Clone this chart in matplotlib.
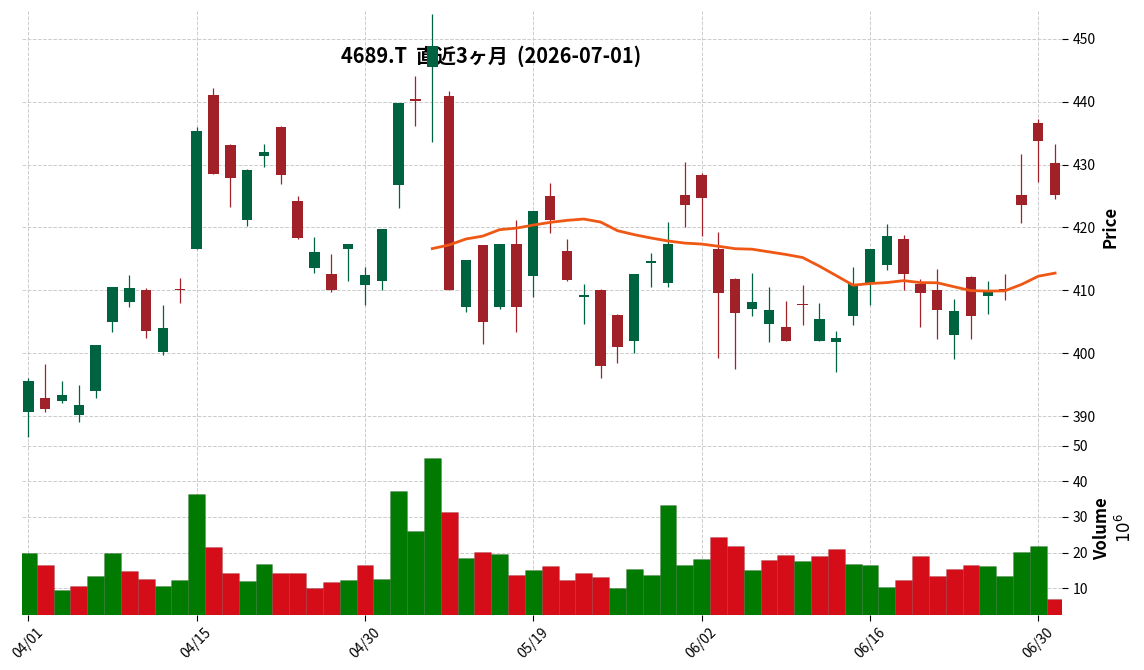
import numpy as np
import pandas as pd
import matplotlib
matplotlib.use("Agg")
import matplotlib.pyplot as plt

plt.rcParams['font.family'] = ['Noto Sans CJK JP', 'DejaVu Sans']

# --- data ---
title = "4689.T  直近3ヶ月  (2026-07-01)"

# Tokyo trading days, Apr 1 - Jul 1 2026
holidays = ['2026-04-29', '2026-05-04', '2026-05-05', '2026-05-06']
dates = pd.bdate_range('2026-04-01', '2026-07-01')
dates = dates[~dates.isin(pd.to_datetime(holidays))]

opens = [390.7, 392.9, 392.45, 390.1, 394.0, 405.0, 408.2, 410.0, 400.2, 410.0,
         416.6, 441.1, 433.1, 421.1, 431.4, 436.0, 424.2, 413.6, 412.6, 416.5,
         410.9, 411.4, 426.8, 440.1, 445.5, 440.9, 407.4, 417.2, 407.4, 417.4,
         412.2, 425.0, 416.3, 409.0, 410.05, 406.1, 402.0, 414.4, 411.1, 425.2,
         428.3, 416.6, 411.8, 407.1, 404.7, 404.2, 407.8, 402.0, 401.7, 405.9,
         411.2, 414.1, 418.2, 410.95, 410.0, 402.9, 412.1, 409.1, 410.0, 425.2,
         436.6, 430.25]
highs = [396.0, 398.2, 395.5, 394.9, 401.3, 410.6, 412.5, 410.3, 407.6, 411.9,
         435.9, 442.1, 433.3, 429.3, 433.2, 436.1, 425.0, 418.4, 415.7, 417.4,
         413.7, 419.8, 439.8, 444.1, 453.9, 441.7, 414.8, 417.2, 417.4, 421.1,
         422.6, 427.0, 418.1, 411.0, 410.25, 406.3, 412.6, 416.0, 420.8, 430.4,
         428.7, 419.2, 411.9, 412.7, 410.6, 408.25, 410.8, 408.0, 403.5, 413.7,
         416.6, 420.5, 418.75, 411.75, 413.4, 408.6, 412.3, 411.4, 412.6, 431.7,
         437.3, 433.2]
lows = [386.6, 390.6, 392.0, 389.0, 392.8, 403.3, 407.3, 402.4, 399.7, 407.9,
        416.6, 428.5, 423.2, 420.2, 429.6, 426.9, 418.2, 412.7, 409.8, 411.5,
        407.6, 410.0, 423.1, 436.1, 433.6, 410.0, 406.6, 401.4, 407.0, 403.3,
        409.0, 419.1, 411.4, 404.6, 396.0, 398.5, 400.1, 410.6, 410.6, 420.1,
        418.7, 399.3, 397.5, 405.9, 401.7, 402.0, 404.4, 402.0, 397.0, 404.4,
        407.6, 413.3, 410.0, 404.1, 402.2, 399.0, 402.2, 406.3, 408.4, 420.7,
        427.3, 424.5]
closes = [395.6, 391.1, 393.4, 391.8, 401.3, 410.5, 410.4, 403.6, 404.0, 410.0,
          435.3, 428.5, 427.9, 429.1, 432.0, 428.4, 418.3, 416.1, 410.05, 417.4,
          412.4, 419.8, 439.8, 440.1, 448.9, 410.05, 414.8, 404.9, 417.4, 407.4,
          422.6, 421.2, 411.6, 409.3, 398.0, 401.0, 412.6, 414.6, 417.4, 423.5,
          424.6, 409.5, 406.4, 408.1, 406.9, 402.0, 407.6, 405.4, 402.4, 411.0,
          416.6, 418.6, 412.65, 409.5, 406.8, 406.7, 405.9, 409.8, 410.0, 423.5,
          433.8, 425.1]
# volume in millions of shares
volumes = [19.8, 16.4, 9.5, 10.7, 13.5, 19.8, 14.9, 12.7, 10.7, 12.4,
           36.5, 21.5, 14.4, 12.1, 16.9, 14.4, 14.4, 10.1, 11.8, 12.4,
           16.4, 12.7, 37.4, 26.0, 46.5, 31.4, 18.6, 20.3, 19.5, 13.8,
           15.2, 16.1, 12.4, 14.4, 13.2, 10.1, 15.5, 13.8, 33.4, 16.6,
           18.1, 24.3, 21.8, 15.2, 17.8, 19.2, 17.5, 18.9, 20.9, 16.9,
           16.4, 10.4, 12.4, 18.9, 13.5, 15.5, 16.4, 16.1, 13.5, 20.1,
           21.8, 7.0]
mav_window = 25

up_color, down_color = '#006340', '#a02128'
vup_color, vdown_color = '#007a00', '#d50d18'
ma_color = '#ef5714'
grid_color = '#cccccc'

o = np.array(opens)
h = np.array(highs)
l = np.array(lows)
c = np.array(closes)
v = np.array(volumes)
x = np.arange(len(c))

fig = plt.figure(figsize=(11.44, 6.70), dpi=100)
left, width = 22 / 1144, 1040 / 1144
ax = fig.add_axes([left, 0.3403, width, 0.6433])
axv = fig.add_axes([left, 0.0821, width, 0.2582], sharex=ax)

# candles
ccol = [up_color if c[i] > o[i] else down_color for i in range(len(c))]
ax.vlines(x, l, h, colors=ccol, linewidth=0.9, zorder=2)
body = np.maximum(np.abs(c - o), 0.25)
ax.bar(x, body, bottom=np.minimum(o, c), width=0.62, color=ccol,
       linewidth=0, zorder=3)

# moving average
ma = pd.Series(c).rolling(mav_window).mean()
ax.plot(x, ma, color=ma_color, linewidth=2.0, zorder=4)

# volume, coloured by close vs previous close
vcol = [vup_color] + [vup_color if c[i] > c[i - 1] else vdown_color
                      for i in range(1, len(c))]
axv.bar(x, v, width=1.0, color=vcol, edgecolor='#00000022', linewidth=0.6,
        zorder=3)

ax.set_xlim(-0.374, 61.41)
ax.set_ylim(385.87, 454.42)
axv.set_ylim(2.5, 51.0)

ax.set_yticks(np.arange(390, 451, 10))
axv.set_yticks(np.arange(10, 51, 10))
ticks = list(range(0, len(c), 10))
axv.set_xticks(ticks)
axv.set_xticklabels([dates[i].strftime('%m/%d') for i in ticks],
                    rotation=45, ha='center')

for a in (ax, axv):
    for s in a.spines.values():
        s.set_visible(False)
    a.yaxis.tick_right()
    a.yaxis.set_label_position('right')
    a.grid(True, linestyle='--', color=grid_color, linewidth=0.7)
    a.set_axisbelow(True)
    a.tick_params(axis='y', direction='out', length=4, labelsize=10)
ax.tick_params(axis='x', bottom=False, labelbottom=False)
axv.tick_params(axis='x', direction='out', length=4, labelsize=10)

ax.set_ylabel('Price', fontsize=12, fontweight='bold')
axv.set_ylabel('Volume\n$10^{6}$', fontsize=12, fontweight='bold')

# title sits behind the candles
ax.text(0.429, 0.916, title, transform=fig.transFigure, ha='center',
        va='center', fontsize=14.4, fontweight='bold', zorder=1)

fig.savefig('out.png', dpi=100)
